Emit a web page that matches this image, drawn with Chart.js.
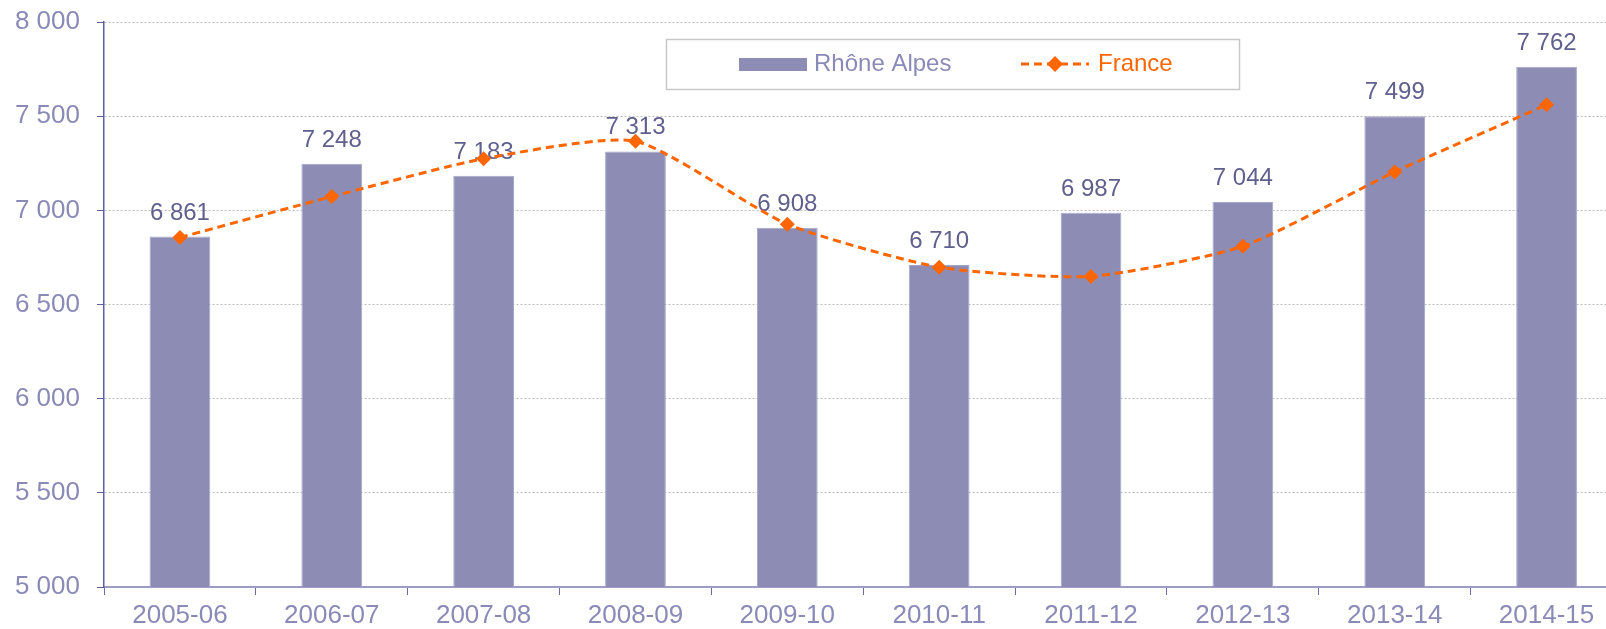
<!DOCTYPE html>
<html>
<head>
<meta charset="utf-8">
<script src="https://cdn.jsdelivr.net/npm/chart.js@4"></script>
<style>
    html, body { margin: 0; padding: 0; background: #ffffff; overflow: hidden; }
    #wrap { width: 1606px; height: 629px; overflow: hidden; }
    canvas { display: block; }
</style>
</head>
<body>
<div id="wrap">
    <!-- the plot runs past the right edge in the original, so the canvas is a little wider than the window -->
    <canvas id="chart1" width="1630" height="629"></canvas>
</div>
<script>
const years = ['2005-06', '2006-07', '2007-08', '2008-09', '2009-10',
               '2010-11', '2011-12', '2012-13', '2013-14', '2014-15'];
const rhoneAlpes = [6861, 7248, 7183, 7313, 6908, 6710, 6987, 7044, 7499, 7762];
const france = [6856, 7073, 7274, 7367, 6926, 6698, 6649, 6809, 7204, 7560];
const yTicks = [5000, 5500, 6000, 6500, 7000, 7500, 8000];

function spaced(v) {
    return String(Math.round(v)).replace(/\B(?=(\d{3})+(?!\d))/g, ' ');
}

// value labels above the bars, drawn before the line so the line sits on top
const barLabels = {
    id: 'barLabels',
    afterDatasetDraw(chart, args) {
        if (args.index !== 0) return;
        const ctx = chart.ctx;
        const meta = chart.getDatasetMeta(0);
        ctx.save();
        ctx.font = '24px "Liberation Sans", Arial, sans-serif';
        ctx.fillStyle = '#60608f';
        ctx.textAlign = 'center';
        ctx.textBaseline = 'alphabetic';
        meta.data.forEach(function(bar, i) {
            ctx.fillText(spaced(rhoneAlpes[i]), bar.x, bar.y - 17);
        });
        ctx.restore();
    }
};

// boxed legend floating inside the plot
const boxLegend = {
    id: 'boxLegend',
    afterDraw(chart) {
        const ctx = chart.ctx;
        ctx.save();
        ctx.fillStyle = '#ffffff';
        ctx.fillRect(666, 39, 573, 50);
        ctx.strokeStyle = '#c8c8c8';
        ctx.lineWidth = 1.5;
        ctx.strokeRect(666.5, 39.5, 573, 50);

        ctx.font = '24px "Liberation Sans", Arial, sans-serif';
        ctx.textBaseline = 'middle';
        ctx.textAlign = 'left';

        ctx.fillStyle = '#8c8cb5';
        ctx.fillRect(739, 58, 68, 13);
        ctx.fillStyle = '#8a8ab8';
        ctx.fillText(chart.data.datasets[0].label, 814, 64);

        ctx.strokeStyle = '#ff6600';
        ctx.lineWidth = 3;
        ctx.setLineDash([8, 5]);
        ctx.beginPath();
        ctx.moveTo(1021, 64);
        ctx.lineTo(1089, 64);
        ctx.stroke();
        ctx.setLineDash([]);
        ctx.fillStyle = '#ff6600';
        ctx.beginPath();
        ctx.moveTo(1055, 56);
        ctx.lineTo(1063, 64);
        ctx.lineTo(1055, 72);
        ctx.lineTo(1047, 64);
        ctx.closePath();
        ctx.fill();
        ctx.fillText(chart.data.datasets[1].label, 1098, 64);
        ctx.restore();
    }
};

document.addEventListener("DOMContentLoaded", function() {
    const ctx1 = document.getElementById('chart1').getContext('2d');
    new Chart(ctx1, {
        type: 'bar',
        data: {
            labels: years,
            datasets: [{
                type: 'bar',
                label: 'Rhône Alpes',
                data: rhoneAlpes,
                backgroundColor: '#8c8cb5',
                borderColor: '#a6a6cc',
                borderWidth: 1,
                barPercentage: 1,
                categoryPercentage: 0.4,
                order: 1
            }, {
                type: 'line',
                label: 'France',
                data: france,
                borderColor: '#ff6600',
                borderWidth: 3,
                borderDash: [8, 5],
                tension: 0.2,
                fill: false,
                pointStyle: 'rectRot',
                pointRadius: 7.5,
                pointBackgroundColor: '#ff6600',
                pointBorderWidth: 0,
                order: 0
            }]
        },
        options: {
            responsive: false,
            animation: false,
            layout: {
                padding: { top: 22, right: 6, left: 0, bottom: 0 }
            },
            plugins: {
                legend: { display: false },
                tooltip: { enabled: false }
            },
            scales: {
                x: {
                    offset: true,
                    afterFit: function(scale) {
                        scale.height = 42;
                        scale.paddingLeft = 0;
                        scale.paddingRight = 0;
                    },
                    grid: {
                        offset: true,
                        drawOnChartArea: false,
                        drawTicks: true,
                        tickLength: 8,
                        tickColor: '#6b6ba8',
                        tickWidth: 1
                    },
                    border: { color: '#9c9cc4', width: 2 },
                    ticks: {
                        color: '#8a8ab8',
                        padding: 5,
                        maxRotation: 0,
                        autoSkip: false,
                        font: { family: '"Liberation Sans", Arial, sans-serif', size: 26 }
                    }
                },
                y: {
                    min: 5000,
                    max: 8000,
                    afterFit: function(scale) {
                        scale.width = 104;
                        scale.paddingTop = 0;
                        scale.paddingBottom = 0;
                    },
                    afterBuildTicks: function(scale) {
                        scale.ticks = yTicks.map(function(v) { return { value: v }; });
                    },
                    grid: {
                        color: '#bdbdbd',
                        lineWidth: 1,
                        drawTicks: true,
                        tickLength: 7,
                        tickColor: '#5f5f9f',
                        tickBorderDash: []
                    },
                    border: { color: '#5f5f9f', width: 1.5, dash: [2, 2] },
                    ticks: {
                        color: '#8a8ab8',
                        padding: 17,
                        callback: function(value) { return spaced(value); },
                        font: { family: '"Liberation Sans", Arial, sans-serif', size: 26 }
                    }
                }
            }
        },
        plugins: [barLabels, boxLegend]
    });
});
</script>
</body>
</html>
